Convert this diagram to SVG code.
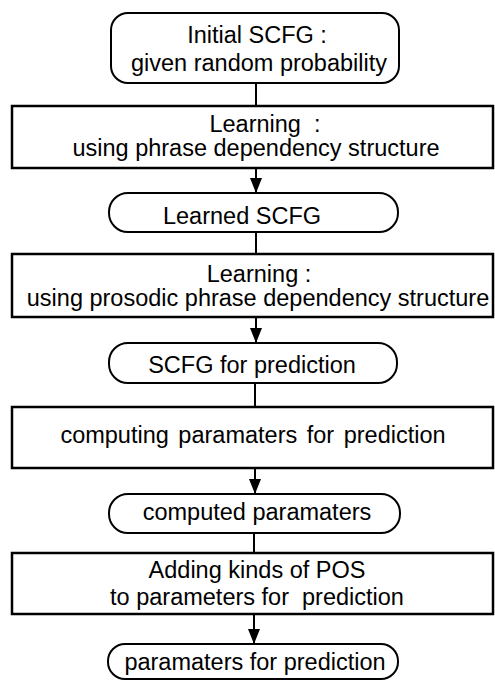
<svg xmlns="http://www.w3.org/2000/svg" width="495" height="681" viewBox="0 0 495 681">
  <style>
    .term { fill: #fff; stroke: #000; stroke-width: 2; }
    .proc { fill: #fff; stroke: #000; stroke-width: 2.5; }
    .lbl { font-family: "Liberation Sans", Arial, Helvetica, sans-serif; font-size: 23.5px; fill: #000; text-anchor: middle; }
    .edge { stroke: #000; stroke-width: 2; fill: none; }
  </style>
  <defs>
    <marker id="arrow" viewBox="0 0 15 12" refX="15" refY="6" markerWidth="15" markerHeight="12" markerUnits="userSpaceOnUse" orient="auto">
      <path d="M0,0 L15,6 L0,12 Z" fill="#000"/>
    </marker>
  </defs>
  <rect width="495" height="681" fill="#fff"/>

  <g id="connectors">
    <line class="edge" x1="256" y1="83" x2="256" y2="106"/>
    <line class="edge" x1="256" y1="168" x2="256" y2="193" marker-end="url(#arrow)"/>
    <line class="edge" x1="256" y1="232" x2="256" y2="254"/>
    <line class="edge" x1="256" y1="317" x2="256" y2="343" marker-end="url(#arrow)"/>
    <line class="edge" x1="255" y1="383" x2="255" y2="407"/>
    <line class="edge" x1="255" y1="468" x2="255" y2="494" marker-end="url(#arrow)"/>
    <line class="edge" x1="254" y1="533" x2="254" y2="553"/>
    <line class="edge" x1="254" y1="614" x2="254" y2="644" marker-end="url(#arrow)"/>
  </g>

  <g id="initial-scfg">
    <rect class="term" x="111" y="13" width="288" height="70" rx="17" ry="17"/>
    <text class="lbl"><tspan x="257" y="43">Initial SCFG :</tspan><tspan x="259" y="71">given random probability</tspan></text>
  </g>

  <g id="learning-phrase">
    <rect class="proc" x="12" y="106" width="481" height="62"/>
    <text class="lbl" xml:space="preserve"><tspan x="265" y="132">Learning  :</tspan><tspan x="256" y="156">using phrase dependency structure</tspan></text>
  </g>

  <g id="learned-scfg">
    <rect class="term" x="109" y="193" width="289" height="39" rx="19" ry="19"/>
    <text class="lbl" x="242" y="224">Learned SCFG</text>
  </g>

  <g id="learning-prosodic">
    <rect class="proc" x="12" y="254" width="481" height="63"/>
    <text class="lbl"><tspan x="259" y="282">Learning :</tspan><tspan x="258" y="306">using prosodic phrase dependency structure</tspan></text>
  </g>

  <g id="scfg-prediction">
    <rect class="term" x="109" y="343" width="288" height="40" rx="19" ry="19"/>
    <text class="lbl" x="252" y="373">SCFG for prediction</text>
  </g>

  <g id="computing-params">
    <rect class="proc" x="12" y="407" width="481" height="61"/>
    <text class="lbl" x="253" y="443" word-spacing="3">computing paramaters for prediction</text>
  </g>

  <g id="computed-params">
    <rect class="term" x="109" y="494" width="291" height="39" rx="19" ry="19"/>
    <text class="lbl" x="257" y="520">computed paramaters</text>
  </g>

  <g id="adding-pos">
    <rect class="proc" x="12" y="553" width="481" height="61"/>
    <text class="lbl" xml:space="preserve"><tspan x="257" y="578">Adding kinds of POS</tspan><tspan x="257" y="605">to parameters for  prediction</tspan></text>
  </g>

  <g id="params-prediction">
    <rect class="term" x="108" y="644" width="290" height="35" rx="17" ry="17"/>
    <text class="lbl" x="255" y="670">paramaters for prediction</text>
  </g>
</svg>
